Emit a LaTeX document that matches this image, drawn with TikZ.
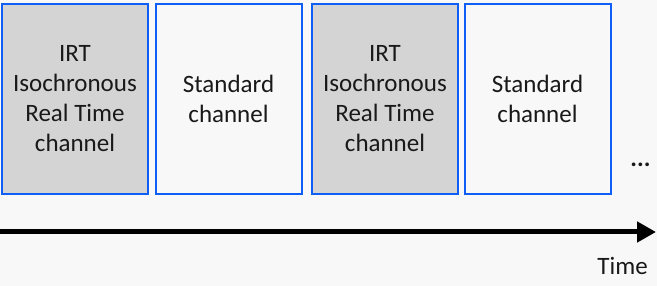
\documentclass[tikz,border=0pt]{standalone}
\usepackage{fontspec}
\setmainfont{Carlito}
\usetikzlibrary{arrows.meta}
\definecolor{bg}{HTML}{F8F8F8}
\definecolor{boxblue}{HTML}{0F5EF5}
\definecolor{irtgray}{HTML}{D4D4D4}
\tikzset{
  chan/.style={draw=boxblue, line width=2pt, minimum width=146pt, minimum height=190pt,
    inner sep=0pt, align=center, font=\fontsize{25}{30}\selectfont, text=black!90},
  irt/.style={chan, fill=irtgray},
  std/.style={chan, fill=bg},
  lbl/.style={font=\fontsize{25}{30}\selectfont, text=black!90, inner sep=0pt}
}
\begin{document}
\begin{tikzpicture}[x=1pt,y=-1pt]
\fill[bg] (0,0) rectangle (657,286);
\useasboundingbox (0,0) rectangle (657,286);
\node[irt] (c1) at (75,99) {IRT\\Isochronous\\Real Time\\channel};
\node[std] (c2) at (228.5,99) {Standard\\channel};
\node[irt] (c3) at (385,99) {IRT\\Isochronous\\Real Time\\channel};
\node[std] (c4) at (537.5,99) {Standard\\channel};
\node[lbl, font=\fontsize{25}{30}\selectfont\bfseries, anchor=base] (dots) at (640.5,167) {...};
\coordinate (a0) at (0,232);
\coordinate (a1) at (656,232);
\draw[line width=5pt, -{Triangle[length=19pt,width=20pt]}] (a0) -- (a1);
\node[lbl, anchor=base east] (time) at (648,275) {Time};
\end{tikzpicture}
\end{document}
